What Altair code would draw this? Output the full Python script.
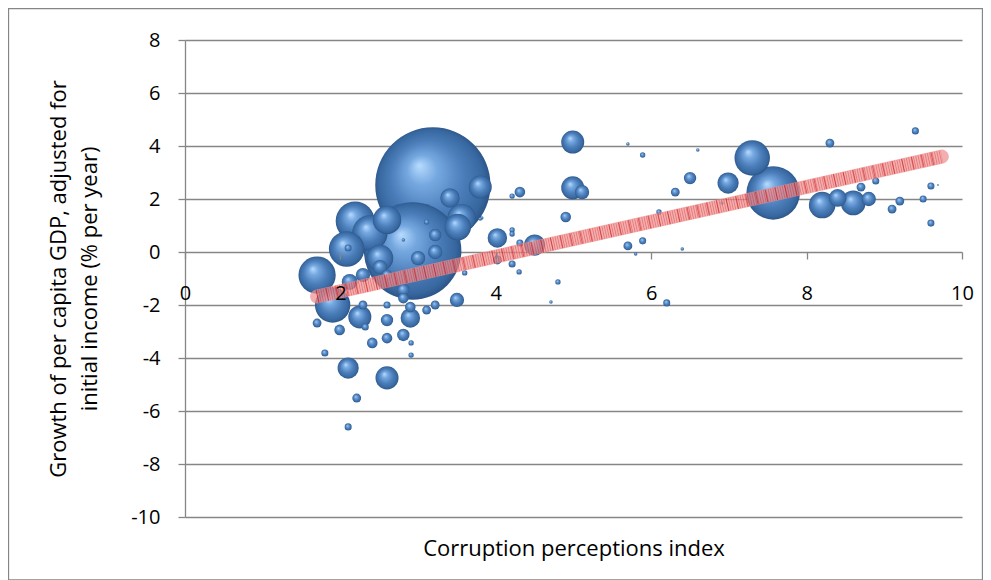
import altair as alt
import pandas as pd

# Bubble data
cpi = [3.19, 2.93, 2.19, 2.38, 2.60, 2.08, 1.70, 1.90, 2.25, 2.51,
       2.29, 2.60, 2.81, 2.81, 2.60, 2.60, 2.90, 2.90, 3.11, 3.22,
       3.50, 2.29, 1.70, 1.99, 2.32, 2.41, 2.60, 2.81, 2.91, 2.91,
       1.80, 2.10, 2.60, 2.21, 2.10, 3.80, 3.41, 3.51, 3.56, 4.02,
       4.31, 4.21, 3.82, 4.21, 4.21, 4.31, 4.50, 4.21, 4.30, 4.02,
       3.60, 4.99, 4.99, 5.11, 4.90, 4.80, 4.71, 3.22, 3.22, 3.00,
       3.11, 2.81, 2.10, 3.80, 5.70, 5.89, 6.60, 6.50, 6.31, 6.99,
       7.30, 7.57, 6.91, 6.10, 5.70, 5.89, 5.80, 6.40, 6.20, 8.30,
       9.40, 8.20, 8.40, 8.60, 8.80, 8.70, 8.89, 9.20, 9.10, 9.50,
       9.60, 9.69, 9.60, 2.51, 2.12]
growth = [2.53, 0.04, 1.17, 0.72, 1.21, 0.11, -0.87, -2.00, -2.45, -0.23,
          -0.87, -0.87, -1.43, -1.74, -2.00, -2.57, -2.49, -2.08, -2.19, -2.00,
          -1.81, -2.00, -2.68, -2.94, -2.83, -3.43, -3.25, -3.13, -3.43, -3.89,
          -3.81, -4.38, -4.75, -5.51, -6.60, 2.45, 2.04, 0.94, 1.28, 0.53,
          2.26, 2.11, 1.28, 0.83, 0.68, 0.34, 0.26, -0.45, -0.75, -0.30,
          -0.79, 4.15, 2.42, 2.26, 1.32, -1.13, -1.89, 0.64, 0.00, -0.23,
          1.13, 0.45, 0.15, 1.25, 4.08, 3.66, 3.85, 2.79, 2.26, 2.60,
          3.55, 2.23, 1.85, 1.51, 0.23, 0.42, -0.08, 0.11, -1.92, 4.11,
          4.57, 1.77, 2.04, 1.85, 2.00, 2.45, 2.68, 1.92, 1.62, 2.00,
          2.49, 2.53, 1.09, -0.57, -1.13]
population = [1300, 930, 149, 123, 79, 123, 136, 123, 52, 69,
              20, 11, 15, 11, 4.9, 15, 37, 11, 7.7, 7.7,
              20, 7.7, 7.7, 11, 4.9, 11, 11, 15, 2.8, 2.8,
              4.9, 44, 52, 7.7, 4.9, 52, 37, 69, 79, 37,
              11, 2.8, 1.2, 2.8, 2.8, 4.9, 44, 4.9, 2.8, 7.7,
              2.8, 52, 52, 20, 11, 2.8, 1.2, 15, 20, 20,
              2.8, 1.2, 4.9, 1.2, 1.2, 2.8, 1.2, 15, 7.7, 44,
              123, 280, 1.2, 2.8, 7.7, 4.9, 1.2, 1.2, 4.9, 7.7,
              4.9, 69, 31, 60, 20, 7.7, 4.9, 7.7, 7.7, 4.9,
              4.9, 0.3, 4.9, 20, 25]

# Linear trend line end points
trend_x = [1.70, 9.74]
trend_y = [-1.68, 3.60]

x_ticks = [0, 2, 4, 6, 8, 10]
y_ticks = [-10, -8, -6, -4, -2, 0, 2, 4, 6, 8]

df = pd.DataFrame({"cpi": cpi, "growth": growth, "pop": population})
tdf = pd.DataFrame({"cpi": trend_x, "growth": trend_y})

FONT = "Open Sans"
GRAY = "#868686"
W, H = 777, 477

x_scale = alt.Scale(domain=[0, 10], nice=False, zero=False)
y_scale = alt.Scale(domain=[-10, 8], nice=False, zero=False)

sphere = {
    "gradient": "radial",
    "x1": 0.38, "y1": 0.33, "r1": 0.0,
    "x2": 0.5, "y2": 0.5, "r2": 0.52,
    "stops": [
        {"offset": 0.0, "color": "#b8dcff"},
        {"offset": 0.25, "color": "#76a8e0"},
        {"offset": 0.6, "color": "#4b7eba"},
        {"offset": 0.88, "color": "#37679f"},
        {"offset": 1.0, "color": "#284f80"},
    ],
}

bubbles = alt.Chart(df).mark_circle(fill=sphere, opacity=1, strokeWidth=0).encode(
    x=alt.X("cpi:Q", scale=x_scale,
            axis=alt.Axis(title="Corruption perceptions index", values=x_ticks,
                          offset=-265, tickSize=7, labelPadding=24,
                          labelFlush=False, grid=False, domain=False, zindex=1,
                          labelExpr="datum.value + ''",
                          tickColor=GRAY, tickWidth=1.3,
                          titleY=296, titleBaseline="middle")),
    y=alt.Y("growth:Q", scale=y_scale,
            axis=alt.Axis(title=["Growth of per capita GDP, adjusted for",
                                 "initial income (% per year)"],
                          values=y_ticks, tickSize=7, labelPadding=18,
                          labelExpr="datum.value + ''",
                          grid=True, gridColor=GRAY, gridWidth=1.3,
                          domainColor=GRAY, tickColor=GRAY, domainWidth=1.3,
                          tickWidth=1.3, titleX=-120, titleBaseline="alphabetic",
                          titleLineHeight=31)),
    size=alt.Size("pop:Q", scale=alt.Scale(domain=[0, 1300], range=[0, 13273]),
                  legend=None),
    order=alt.Order("pop:Q", sort="descending"),
)

trend_base = alt.Chart(tdf).mark_line(
    color="#ee9090", strokeWidth=14, strokeCap="round", opacity=0.72
).encode(x=alt.X("cpi:Q", scale=x_scale), y=alt.Y("growth:Q", scale=y_scale))

trend_hatch = alt.Chart(tdf).mark_line(
    color="#d41a1a", strokeWidth=13, strokeDash=[0.8, 1.6], opacity=0.4
).encode(x=alt.X("cpi:Q", scale=x_scale), y=alt.Y("growth:Q", scale=y_scale))

trend_grid = alt.Chart(tdf).mark_line(
    color="#c80000", strokeWidth=13, strokeDash=[1, 9], opacity=0.5
).encode(x=alt.X("cpi:Q", scale=x_scale), y=alt.Y("growth:Q", scale=y_scale))

frame = alt.Chart(alt.Data(values=[{}])).mark_rect(
    fillOpacity=0, stroke=GRAY, strokeWidth=1.3
).encode(x=alt.value(-176.5), x2=alt.value(W + 21 - 0.5),
         y=alt.value(-31.5), y2=alt.value(H + 63))

chart = alt.layer(frame, bubbles, trend_base, trend_hatch, trend_grid).properties(
    width=W, height=H,
    autosize=alt.AutoSizeParams(type="none"),
    padding={"left": 177, "top": 32, "right": 21, "bottom": 64},
).configure(background="white").configure_view(stroke=None).configure_axis(
    labelFont=FONT, titleFont=FONT, labelFontSize=20, titleFontSize=22,
    labelColor="#000000", titleColor="#000000", titleFontWeight="normal",
)

chart.save("out.html", embed_options={"renderer": "svg", "actions": False})
